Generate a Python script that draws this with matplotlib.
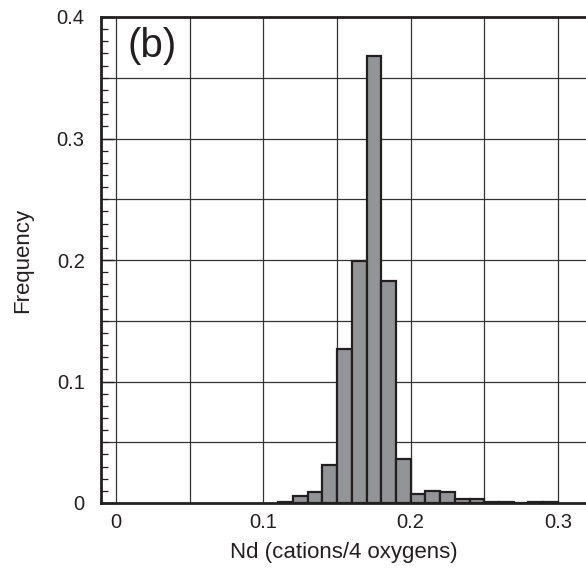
import matplotlib
matplotlib.use("Agg")
import matplotlib.pyplot as plt
from matplotlib.ticker import MultipleLocator, FixedLocator
import numpy as np

plt.rcParams['font.family'] = ['Liberation Sans', 'DejaVu Sans']

bin_left = [0.11, 0.12, 0.13, 0.14, 0.15, 0.16, 0.17, 0.18, 0.19, 0.20,
            0.21, 0.22, 0.23, 0.24, 0.25, 0.26, 0.27, 0.28, 0.29]
freq = [0.001, 0.006, 0.0093, 0.031, 0.127, 0.199, 0.368, 0.183, 0.0365, 0.0075,
        0.0101, 0.0088, 0.0033, 0.0033, 0.001, 0.001, 0.0, 0.001, 0.001]
bin_width = 0.01

x_ticks = [0, 0.1, 0.2, 0.3]
x_tick_labels = ['0', '0.1', '0.2', '0.3']
y_ticks = [0, 0.1, 0.2, 0.3, 0.4]
y_tick_labels = ['0', '0.1', '0.2', '0.3', '0.4']

fig = plt.figure(figsize=(5.86, 5.72), dpi=100)
ax = fig.add_axes([100.7 / 586, 69 / 572, 486.7 / 586, 486 / 572])

ax.set_axisbelow(True)
ax.bar(bin_left, freq, width=bin_width, align='edge', color='#929497',
       edgecolor='#231f20', linewidth=1.6, zorder=3)

ax.set_xlim(-0.0105, 0.32)
ax.set_ylim(0, 0.4)

ax.set_xticks(x_ticks)
ax.set_xticklabels(x_tick_labels)
ax.set_yticks(y_ticks)
ax.set_yticklabels(y_tick_labels)
ax.yaxis.set_minor_locator(MultipleLocator(0.01))
ax.xaxis.set_minor_locator(FixedLocator(np.arange(0.05, 0.32, 0.1)))

ax.tick_params(axis='x', which='both', length=0, labelsize=14.5, pad=7.5, colors='#231f20')
ax.tick_params(axis='y', which='major', direction='in', length=9, width=1.0,
               labelsize=14.5, pad=11.5, colors='#231f20')
ax.tick_params(axis='y', which='minor', direction='in', length=5, width=0.9, colors='#231f20')

ax.grid(True, which='major', axis='x', color='#333333', linewidth=0.9)
ax.grid(True, which='minor', axis='x', color='#333333', linewidth=0.9)
# horizontal grid every 0.05
for yv in np.arange(0.05, 0.4, 0.05):
    ax.axhline(yv, color='#333333', linewidth=0.9, zorder=0.5)

for s in ax.spines.values():
    s.set_linewidth(2.0)
    s.set_color('#231f20')
    s.set_zorder(4)

ax.set_xlabel('Nd (cations/4 oxygens)', fontsize=16, color='#231f20', labelpad=7)
ax.set_ylabel('Frequency', fontsize=16, color='#231f20', labelpad=17)

ax.text(0.0075, 0.392, '(b)', fontsize=29, color='#231f20', ha='left', va='top',
        transform=ax.transData, zorder=5)

fig.savefig('out.png', dpi=100)
